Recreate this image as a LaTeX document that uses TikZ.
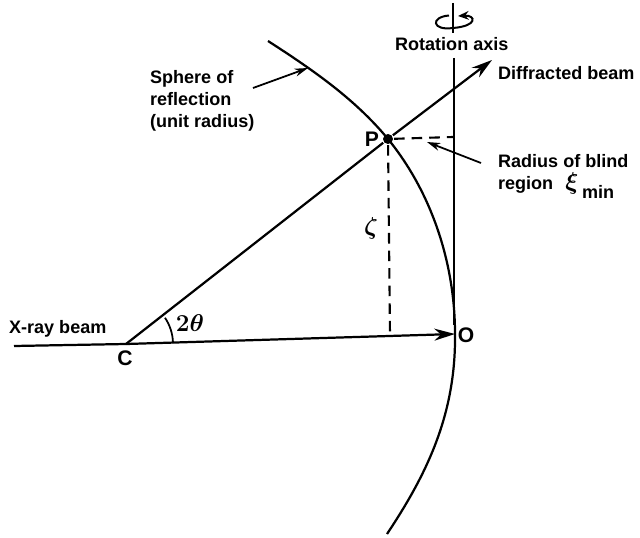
\documentclass[tikz,border=0pt]{standalone}
\usepackage{amsmath}
\usepackage{fontspec}
\setmainfont{Liberation Sans}
\usepackage{tikz}
\usetikzlibrary{arrows.meta}

\begin{document}
\begin{tikzpicture}[x=0.03cm,y=-0.03cm,line width=1.9pt,
label/.style={font=\bfseries\fontsize{15.4}{19}\selectfont,inner sep=0pt,align=left},
pointname/.style={label,font=\bfseries\fontsize{18}{20}\selectfont},
greek/.style={inner sep=0pt,font=\fontsize{22}{22}\selectfont\boldmath},
spot/.style={shape=circle,fill=black,inner sep=0pt,minimum size=10*0.03cm},
beam/.style={-{Stealth[length=0.62cm,width=0.36cm]}},
pointer/.style={line width=1.5pt,-{Stealth[length=0.4cm,width=0.24cm]}},
blind/.style={line width=1.8pt,dash pattern=on 9pt off 6pt}]

\useasboundingbox (0,0) rectangle (640,538);

\coordinate (C) at (126,344);
\coordinate (O) at (455,334);
\coordinate (S) at (14,346);
\node[spot] (P) at (388,139) {};
\coordinate (D) at (492,60);
\coordinate (A) at (454,58);
\coordinate (A2) at (454,325);
\coordinate (F) at (390,335);
\coordinate (R) at (453,137);
\coordinate (T1) at (453,3);
\coordinate (T2) at (453,33);
\coordinate (U) at (268,41);
\coordinate (V) at (387,534);

% beams
\draw (S) -- (C);
\draw[beam] (C) -- (O);
\draw[beam] (P) -- (D);
\draw (C) -- (P);

% sphere and axis
\draw (U) .. controls (313,70) and (355,99) .. (P.center) .. controls (432,193) and (455,264) .. (O) .. controls (456,414) and (427,474) .. (V);
\draw (A) -- (A2);
\draw (T1) -- (T2);

% rotation mark
\coordinate (E1) at (449,15.5);
\coordinate (E2) at (458,16);
\draw[line width=1.7pt,-{Stealth[length=0.32cm,width=0.26cm]}] (E1) .. controls (430,17) and (432,31) .. (453,28) .. controls (478,26) and (476,15) .. (E2);

% dashed lines
\draw[blind] (P) -- (R);
\draw[blind] (P) -- (F);

% angle
\draw[line width=1.5pt] ([shift={(-1:47)}]C) arc (-1:-34:47);

% pointers
\coordinate (SP) at (253,88);
\coordinate (SQ) at (308,68);
\draw[pointer] (SP) -- (SQ);
\coordinate (BP) at (481,163);
\coordinate (BQ) at (427,142);
\draw[pointer] (BP) -- (BQ);

% texts
\node[label,anchor=west] (Rot) at (394,44) {Rotation axis};
\node[label,anchor=west] (Dif) at (497,73) {Diffracted beam};
\node[label,anchor=north west] (Sph) at (149,69) {Sphere of\\reflection\\(unit radius)};
\node[label,anchor=north west] (Bli) at (497,153) {Radius of blind\\region};
\node[greek] (Xi) at (572,183) {$\xi$};
\node[label,anchor=west] (Min) at (581,192) {min};
\node[label,anchor=west] (Xr) at (8,329) {X-ray beam};
\node[greek] (Ze) at (371,228) {$\zeta$};
\node[greek] (Th) at (190,323) {$2\theta$};
\node[pointname] (Pn) at (372,139) {P};
\node[pointname] (Cn) at (125,358) {C};
\node[pointname] (On) at (466,335) {O};
\end{tikzpicture}
\end{document}
